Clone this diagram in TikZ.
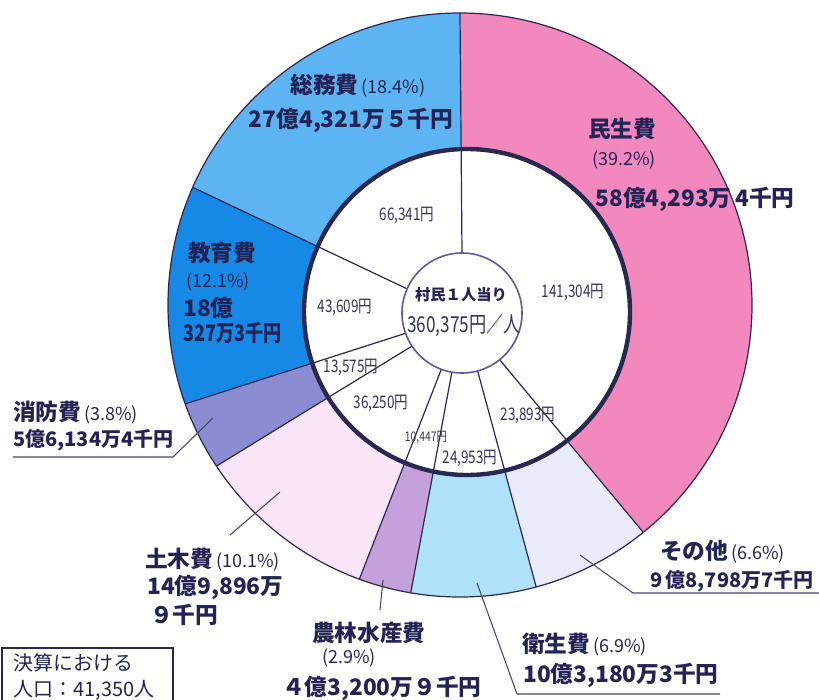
\documentclass[tikz,border=0pt]{standalone}
\usepackage{fontspec}
\usetikzlibrary{calc}
\newfontfamily\jp{Noto Sans CJK JP}
\newfontfamily\jpn[FakeStretch=0.78]{Noto Sans CJK JP}
\newfontfamily\jpc[FakeStretch=0.8]{Noto Sans CJK JP}
\definecolor{cmin}{RGB}{242,136,190}
\definecolor{csomu}{RGB}{92,180,242}
\definecolor{ckyo}{RGB}{22,136,230}
\definecolor{csho}{RGB}{140,140,210}
\definecolor{cdob}{RGB}{250,228,248}
\definecolor{cnou}{RGB}{196,160,220}
\definecolor{ceis}{RGB}{175,225,250}
\definecolor{cson}{RGB}{234,235,250}
\definecolor{txt}{RGB}{35,35,85}
\definecolor{txt2}{RGB}{50,50,100}
\definecolor{lnc}{RGB}{40,40,80}
\definecolor{pcirc}{RGB}{100,85,160}
\newcommand\pct[1]{{\mdseries\fontsize{13.5}{15}\selectfont\,(#1)}}
\newcommand\segfill[3]{%
  \fill[#1] ($(O3)+(#2:60)$) -- ($(O1)+(#2:292)$)
    arc[start angle=#2, end angle=#3, radius=292]
    -- ($(O3)+(#3:60)$) -- cycle;}
\newcommand\segline[1]{\draw[bline] ($(O3)+(#1:60)$) -- ($(O1)+(#1:292)$);}
\tikzset{
  bl/.style={font=\jp\bfseries\fontsize{17}{20}\selectfont, text=txt, inner sep=0pt},
  blm/.style={font=\jp\bfseries\fontsize{15}{18}\selectfont, text=txt, inner sep=0pt},
  blc/.style={font=\jpc\bfseries\fontsize{17}{20}\selectfont, text=txt, inner sep=0pt},
  pc/.style={font=\jp\fontsize{13.5}{15}\selectfont, text=txt, inner sep=0pt},
  am/.style={font=\jpn\fontsize{13}{15}\selectfont, text=txt2, inner sep=0pt},
  ams/.style={font=\jpn\fontsize{10}{12}\selectfont, text=txt2, inner sep=0pt},
  bline/.style={draw=lnc, line width=0.9pt},
  leader/.style={draw=lnc!85, line width=0.8pt},
  boxt/.style={font=\jp\fontsize{15}{18}\selectfont, text=txt, inner sep=0pt, anchor=west},
}
\begin{document}
\begin{tikzpicture}[x=0.75pt,y=-0.75pt]
\useasboundingbox (0,0) rectangle (819,700);
\fill[white] (0,0) rectangle (819,700);
\coordinate (O1) at (460,305);
\coordinate (O2) at (467,312);
\coordinate (O3) at (462,313);
% segments
\segfill{cmin}{-90}{51.12}
\segfill{cson}{51.12}{74.88}
\segfill{ceis}{74.88}{99.72}
\segfill{cnou}{99.72}{110.16}
\segfill{cdob}{110.16}{146.52}
\segfill{csho}{146.52}{160.2}
\segfill{ckyo}{160.2}{203.76}
\segfill{csomu}{203.76}{270}
\fill[white] (O2) circle[radius=163];
% boundaries
\segline{-90}
\segline{51.12}
\segline{74.88}
\segline{99.72}
\segline{110.16}
\segline{146.52}
\segline{160.2}
\segline{203.76}
\draw[lnc, line width=0.9pt] (O1) circle[radius=292];
\draw[lnc, line width=3.3pt] (O2) circle[radius=163];
\draw[pcirc, fill=white, line width=1.2pt] (O3) circle[radius=60];
% center
\node[font=\jp\bfseries\fontsize{11.5}{13}\selectfont, text=txt, inner sep=0pt] (cen1) at (461,295) {村民１人当り};
\node[font=\jpn\fontsize{16.5}{18}\selectfont, text=txt2, inner sep=0pt] (cen2) at (464,325) {360,375円／人};
% inner amounts
\node[am] (a1) at (407,215) {66,341円};
\node[am] (a2) at (573,292) {141,304円};
\node[am] (a3) at (345,307) {43,609円};
\node[am] (a4) at (351,367) {13,575円};
\node[am] (a5) at (381,403) {36,250円};
\node[ams] (a6) at (426,438) {10,447円};
\node[am] (a7) at (470,458) {24,953円};
\node[am] (a8) at (528,415) {23,893円};
% labels
\node[bl] (somu1) at (358,86) {総務費\pct{18.4\%}};
\node[bl] (somu2) at (351,120) {27億4,321万５千円};
\node[bl] (min1) at (622,129) {民生費};
\node[pc] (min2) at (624,160) {(39.2\%)};
\node[bl] (min3) at (695,199) {58億4,293万\,4千円};
\node[bl,anchor=west] (kyo1) at (188,253) {教育費};
\node[pc,anchor=west] (kyo2) at (186,282) {(12.1\%)};
\node[bl,anchor=west] (kyo3) at (183,308) {18億};
\node[blc,anchor=west] (kyo4) at (183,333) {327万3千円};
\node[bl,anchor=west] (sho1) at (13,413) {消防費\pct{3.8\%}};
\node[blm,anchor=west] (sho2) at (13,440) {5億6,134万4千円};
\node[bl,anchor=west] (dob1) at (145,560) {土木費\pct{10.1\%}};
\node[bl,anchor=west] (dob2) at (147,587) {14億9,896万};
\node[bl,anchor=west] (dob3) at (150,615) {９千円};
\node[bl,anchor=west] (nou1) at (312,633) {農林水産費};
\node[pc,anchor=west] (nou2) at (322,658) {(2.9\%)};
\node[bl,anchor=west] (nou3) at (282,688) {４億3,200万９千円};
\node[bl,anchor=west] (eis1) at (522,645) {衛生費\pct{6.9\%}};
\node[bl,anchor=west] (eis2) at (523,675) {10億3,180万3千円};
\node[bl,anchor=west] (son1) at (660,552) {その他\pct{6.6\%}};
\node[blm,anchor=west] (son2) at (650,581) {9\,億8,798万7千円};
% leaders
\coordinate (s1) at (213,418); \coordinate (s2) at (173,457); \coordinate (s3) at (13,457);
\draw[leader] (s1) -- (s2) -- (s3);
\coordinate (d1) at (280,492); \coordinate (d2) at (230,535);
\draw[leader] (d1) -- (d2);
\coordinate (n1) at (383,580); \coordinate (n2) at (380,610);
\draw[leader] (n1) -- (n2);
\coordinate (e1) at (477,583); \coordinate (e2) at (517,694); \coordinate (e3) at (720,694);
\draw[leader] (e1) -- (e2) -- (e3);
\coordinate (o1) at (580,555); \coordinate (o2) at (633,593); \coordinate (o3) at (819,593);
\draw[leader] (o1) -- (o2) -- (o3);
% population box
\coordinate (b1) at (2,648); \coordinate (b2) at (173,712);
\draw[lnc, line width=0.8pt] (b1) rectangle (b2);
\node[boxt] (pop1) at (13,663) {決算における};
\node[boxt] (pop2) at (13,690) {人口：41,350人};
\end{tikzpicture}
\end{document}
